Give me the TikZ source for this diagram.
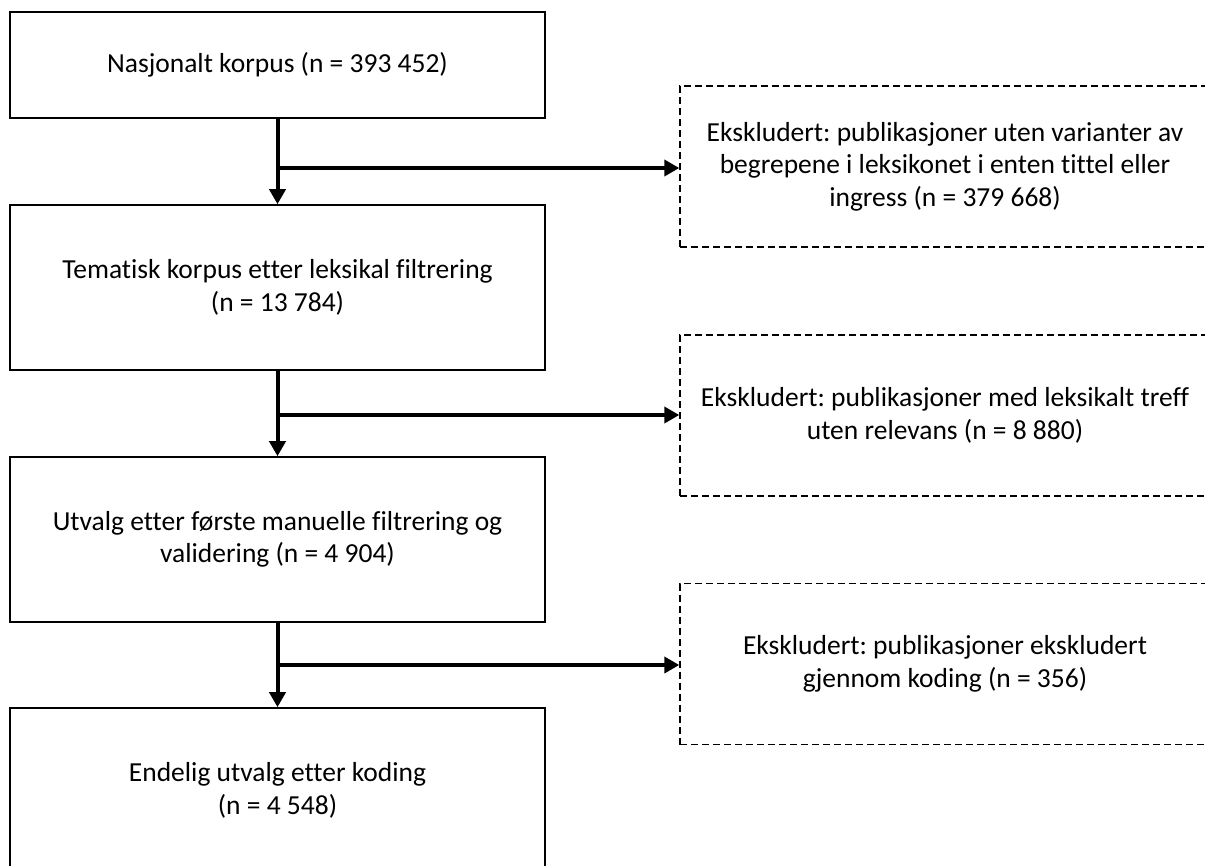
\documentclass[tikz,border=0pt]{standalone}
\usepackage{fontspec}
\setmainfont{Carlito}[Ligatures=NoCommon]
\frenchspacing
\usetikzlibrary{arrows.meta}
\begin{document}
\begin{tikzpicture}[x=1pt,y=-1pt,
  every node/.style={font=\fontsize{27.5}{32.5}\selectfont\frenchspacing, align=center, inner sep=0pt},
  mainbox/.style={draw, line width=1.6pt, minimum width=535pt},
  exbox/.style={draw, line width=1.4pt, dash pattern=on 7pt off 4pt, minimum width=530pt, minimum height=161pt},
  flow/.style={line width=4pt, -{Triangle[length=15pt,width=16pt]}}
]
\useasboundingbox (0,0) rectangle (1205,865);
\clip (0,0) rectangle (1205,865);
\fill[white] (0,0) rectangle (1205,865);

\node[mainbox, minimum height=106pt] (b1) at (277.5,65) {Nasjonalt korpus (n = 393 452)};
\node[mainbox, minimum height=165pt] (b2) at (277.5,287.5) {Tematisk korpus etter leksikal filtrering\\(n = 13 784)};
\node[mainbox, minimum height=165pt] (b3) at (277.5,539.5) {Utvalg etter første manuelle filtrering og\\validering (n = 4 904)};
\node[mainbox, minimum height=165pt] (b4) at (277.5,790.5) {Endelig utvalg etter koding\\(n = 4 548)};

\node[exbox] (e1) at (945,166.5) {Ekskludert: publikasjoner uten varianter av\\begrepene i leksikonet i enten tittel eller\\ingress (n = 379 668)};
\node[exbox] (e2) at (945,415.5) {Ekskludert: publikasjoner med leksikalt treff\\uten relevans (n = 8 880)};
\node[exbox] (e3) at (945,664) {Ekskludert: publikasjoner ekskludert\\gjennom koding (n = 356)};

\coordinate (j1) at (277.5,168);
\coordinate (j2) at (277.5,415);
\coordinate (j3) at (277.5,665);

\draw[flow] (b1.south) -- (b2.north);
\draw[flow] (b2.south) -- (b3.north);
\draw[flow] (b3.south) -- (b4.north);

\draw[flow] ([xshift=-2pt]j1) -- (j1 -| e1.west);
\draw[flow] ([xshift=-2pt]j2) -- (j2 -| e2.west);
\draw[flow] ([xshift=-2pt]j3) -- (j3 -| e3.west);
\end{tikzpicture}
\end{document}
